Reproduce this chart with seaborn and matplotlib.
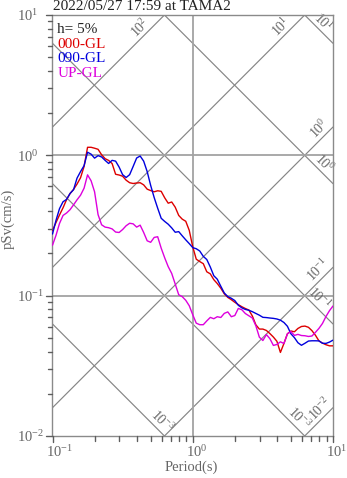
import numpy as np
import pandas as pd
import matplotlib
matplotlib.use("Agg")
import matplotlib.pyplot as plt
import matplotlib.transforms as mtransforms
from matplotlib.ticker import LogLocator, NullLocator
import seaborn as sns

# ---- response spectra (pseudo velocity, h = 5%) ----
periods = [
    0.1, 0.1059, 0.1122, 0.1189, 0.1259, 0.1334, 0.1413, 0.1496, 0.1585, 0.1679,
    0.1778, 0.1884, 0.1995, 0.2113, 0.2239, 0.2371, 0.2512, 0.2661, 0.2818, 0.2985,
    0.3162, 0.3350, 0.3548, 0.3758, 0.3981, 0.4217, 0.4467, 0.4732, 0.5012, 0.5309,
    0.5623, 0.5957, 0.6310, 0.6683, 0.7079, 0.7499, 0.7943, 0.8414, 0.8913, 0.9441,
    1.0, 1.059, 1.122, 1.189, 1.259, 1.334, 1.413, 1.496, 1.585, 1.679,
    1.778, 1.884, 1.995, 2.113, 2.239, 2.371, 2.512, 2.661, 2.818, 2.985,
    3.162, 3.350, 3.548, 3.758, 3.981, 4.217, 4.467, 4.732, 5.012, 5.309,
    5.623, 5.957, 6.310, 6.683, 7.079, 7.499, 7.943, 8.414, 8.913, 9.441, 10.0,
]

psv_000 = [
    0.291, 0.332, 0.376, 0.423, 0.483, 0.534, 0.572, 0.624, 0.693, 0.832,
    1.141, 1.141, 1.124, 1.104, 1.010, 0.947, 0.920, 0.874, 0.733, 0.724,
    0.710, 0.665, 0.638, 0.630, 0.635, 0.638, 0.616, 0.574, 0.561, 0.550,
    0.559, 0.554, 0.498, 0.456, 0.465, 0.427, 0.373, 0.351, 0.339, 0.292,
    0.223, 0.182, 0.175, 0.169, 0.148, 0.143, 0.130, 0.122, 0.113, 0.103,
    0.0972, 0.0936, 0.0897, 0.0863, 0.0834, 0.0810, 0.0790, 0.0716, 0.0620, 0.0578,
    0.0578, 0.0565, 0.0537, 0.0507, 0.0473, 0.0394, 0.0456, 0.0535, 0.0560, 0.0553,
    0.0584, 0.0603, 0.0607, 0.0595, 0.0563, 0.0522, 0.0476, 0.0459, 0.0447, 0.0439, 0.0439,
]

psv_090 = [
    0.275, 0.344, 0.417, 0.467, 0.485, 0.535, 0.569, 0.688, 0.766, 0.844,
    1.052, 1.020, 0.955, 0.995, 0.974, 0.921, 0.875, 0.921, 0.909, 0.825,
    0.728, 0.695, 0.728, 0.833, 0.957, 0.989, 0.909, 0.766, 0.610, 0.500,
    0.420, 0.356, 0.338, 0.323, 0.304, 0.283, 0.286, 0.267, 0.250, 0.235,
    0.220, 0.216, 0.208, 0.1905, 0.181, 0.160, 0.1387, 0.131, 0.1167, 0.1044,
    0.0985, 0.0958, 0.0923, 0.0854, 0.0819, 0.0798, 0.0787, 0.0769, 0.0747, 0.0726,
    0.0701, 0.0698, 0.0693, 0.0689, 0.0682, 0.0669, 0.0644, 0.0605, 0.0535, 0.0502,
    0.0462, 0.0443, 0.0458, 0.0475, 0.0477, 0.0477, 0.0476, 0.0458, 0.0457, 0.0467, 0.0482,
]

psv_up = [
    0.229, 0.269, 0.327, 0.373, 0.388, 0.410, 0.444, 0.482, 0.520, 0.583,
    0.726, 0.659, 0.550, 0.378, 0.320, 0.308, 0.305, 0.299, 0.284, 0.282,
    0.296, 0.315, 0.328, 0.325, 0.308, 0.318, 0.282, 0.246, 0.240, 0.260,
    0.263, 0.218, 0.186, 0.161, 0.144, 0.121, 0.1015, 0.0984, 0.0927, 0.0848,
    0.0731, 0.0637, 0.0621, 0.0621, 0.0661, 0.0700, 0.0685, 0.0708, 0.0699, 0.0748,
    0.0766, 0.0708, 0.0722, 0.0811, 0.0794, 0.0746, 0.0719, 0.0693, 0.0610, 0.0506,
    0.0479, 0.0528, 0.0494, 0.0442, 0.0449, 0.0469, 0.0456, 0.0535, 0.0555, 0.0521,
    0.0530, 0.0520, 0.0518, 0.0512, 0.0516, 0.0548, 0.0585, 0.0634, 0.0711, 0.0782, 0.0844,
]

components = ["000-GL", "090-GL", "UP-GL"]
component_colors = ["#dd0000", "#0000dd", "#dd00dd"]
damping_text = "h= 5%"
title_text = "2022/05/27 17:59 at TAMA2"

x_ticks = [0.1, 1.0, 10.0]
x_tick_labels = ["$10^{-1}$", "$10^{0}$", "$10^{1}$"]
y_ticks = [0.01, 0.1, 1.0, 10.0]
y_tick_labels = ["$10^{-2}$", "$10^{-1}$", "$10^{0}$", "$10^{1}$"]

# tripartite guide lines: constant acceleration (cm/s^2) and displacement (cm)
accel_levels = [1e-2, 1e-1, 1e0, 1e1, 1e2]
accel_label_periods = [8.87, 8.64, 8.8, 4.67, 0.462]
accel_label_texts = ["$10^{-2}$", "$10^{-1}$", "$10^{0}$", "$10^{1}$", "$10^{2}$"]
disp_levels = [1e-3, 1e-2, 1e-1, 1e0, 1e1]
disp_label_periods = [0.545, 5.18, 7.26, 7.83, 7.75]
disp_label_texts = ["$10^{-3}$", "$10^{-3}$", "$10^{-1}$", "$10^{0}$", "$10^{1}$"]

# ---- styling ----
sns.set_theme(style="white")
plt.rcParams["font.family"] = ["Liberation Serif", "DejaVu Serif"]
plt.rcParams["mathtext.fontset"] = "custom"
plt.rcParams["mathtext.rm"] = "Liberation Serif"
plt.rcParams["mathtext.it"] = "Liberation Serif:italic"
plt.rcParams["mathtext.bf"] = "Liberation Serif:bold"
plt.rcParams["mathtext.default"] = "regular"

W, H = 347, 478
fig = plt.figure(figsize=(W / 100, H / 100), dpi=100)
ax_l, ax_r, ax_t, ax_b = 52.5, 333.0, 15.0, 436.0
ax_w, ax_h = ax_r - ax_l, ax_b - ax_t
ax = fig.add_axes([ax_l / W, 1 - ax_b / H, ax_w / W, ax_h / H])

ax.set_xscale("log")
ax.set_yscale("log")
ax.set_xlim(0.1, 10)
ax.set_ylim(0.01, 10)

df = pd.DataFrame({
    "Period": periods * 3,
    "pSv": psv_000 + psv_090 + psv_up,
    "component": sum([[c] * len(periods) for c in components], []),
})
sns.lineplot(data=df, x="Period", y="pSv", hue="component",
             palette=dict(zip(components, component_colors)), hue_order=components,
             estimator=None, sort=False, linewidth=1.0, legend=False, ax=ax, zorder=3)
ax.set_xlim(0.1, 10)
ax.set_ylim(0.01, 10)
ax.set_xlabel("")
ax.set_ylabel("")

guide_color = "#858585"
tline = np.array([0.1, 10.0])
two_pi = 2 * np.pi
for sa in accel_levels:
    ax.plot(tline, sa * tline / two_pi, color=guide_color, lw=0.85, zorder=1)
for sd in disp_levels:
    ax.plot(tline, two_pi * sd / tline, color=guide_color, lw=0.85, zorder=1)

ax.axvline(1.0, color="#a3a3a3", lw=1.3, zorder=1)
ax.axhline(1.0, color="#a3a3a3", lw=1.3, zorder=1)
ax.axhline(0.1, color="#a3a3a3", lw=1.3, zorder=1)

off = 4.2
for sa, t, txt in zip(accel_levels, accel_label_periods, accel_label_texts):
    ax.annotate(txt, (t, sa * t / two_pi), xytext=(-off, off), textcoords="offset points",
                rotation=45, rotation_mode="anchor", ha="center", va="center",
                fontsize=10, color="#686868", zorder=2)
for sd, t, txt in zip(disp_levels, disp_label_periods, disp_label_texts):
    ax.annotate(txt, (t, two_pi * sd / t), xytext=(off, off), textcoords="offset points",
                rotation=-45, rotation_mode="anchor", ha="center", va="center",
                fontsize=10, color="#686868", zorder=2)

for s in ax.spines.values():
    s.set_color("#8a8a8a")
    s.set_linewidth(1.0)

# outward tick marks drawn as short segments on the log scales
ax.xaxis.set_major_locator(NullLocator())
ax.xaxis.set_minor_locator(NullLocator())
ax.yaxis.set_major_locator(NullLocator())
ax.yaxis.set_minor_locator(NullLocator())
minor_loc = LogLocator(base=10, subs=np.arange(2, 10), numticks=10)
x_minor = [v for v in minor_loc.tick_values(0.1, 10) if 0.1 < v < 10]
y_minor = [v for v in minor_loc.tick_values(0.01, 10) if 0.01 < v < 10]
tick_color = "#5e5e5e"
major_px, minor_px = 6.0, 4.5
xt = mtransforms.blended_transform_factory(ax.transData, ax.transAxes)
yt = mtransforms.blended_transform_factory(ax.transAxes, ax.transData)
for v in x_ticks:
    ax.plot([v, v], [0, -major_px / ax_h], transform=xt, color=tick_color, lw=1.0,
            clip_on=False, zorder=5)
for v in x_minor:
    ax.plot([v, v], [0, -minor_px / ax_h], transform=xt, color=tick_color, lw=1.0,
            clip_on=False, zorder=5)
for v in y_ticks:
    ax.plot([0, -major_px / ax_w], [v, v], transform=yt, color=tick_color, lw=1.0,
            clip_on=False, zorder=5)
for v in y_minor:
    ax.plot([0, -minor_px / ax_w], [v, v], transform=yt, color=tick_color, lw=1.0,
            clip_on=False, zorder=5)

label_color = "#666666"
xlab_tr = mtransforms.blended_transform_factory(ax.transData, fig.transFigure)
for v, txt in zip(x_ticks, x_tick_labels):
    ax.text(v, 1 - 444 / H, txt, transform=xlab_tr + mtransforms.ScaledTranslation(
        -7 / 100, 0, fig.dpi_scale_trans), ha="left", va="top", fontsize=10.5,
        color=label_color, clip_on=False)
ylab_tr = mtransforms.blended_transform_factory(fig.transFigure, ax.transData)
for v, txt in zip(y_ticks, y_tick_labels):
    ax.text(17 / W, v, txt, transform=ylab_tr, ha="left", va="center_baseline",
            fontsize=10.5, color=label_color, clip_on=False)

fig.text(53 / W, 1 - 7 / H, title_text, ha="left", va="center", fontsize=11, color="#222222")
fig.text(8 / W, 1 - 219 / H, "pSv(cm/s)", rotation=90, ha="center", va="center",
         fontsize=10.5, color=label_color)
fig.text(191 / W, 1 - 467.5 / H, "Period(s)", ha="center", va="center",
         fontsize=10.5, color=label_color)

legend_x = 0.0178
ax.text(legend_x, 0.9656, damping_text, transform=ax.transAxes, ha="left", va="center",
        fontsize=11, color="#222222", zorder=4)
for name, col, yy in zip(components, component_colors, [0.9311, 0.8967, 0.8622]):
    ax.text(legend_x, yy, name, transform=ax.transAxes, ha="left", va="center",
            fontsize=11, color=col, zorder=4)

fig.savefig("out.png", dpi=100)
